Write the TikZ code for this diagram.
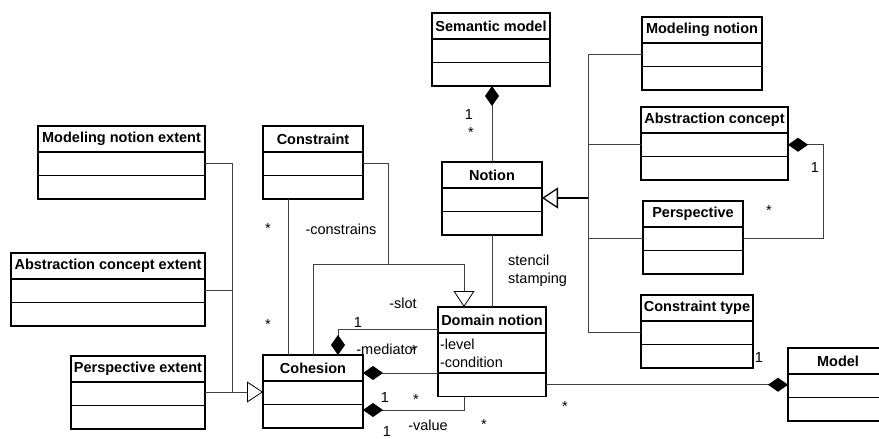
\documentclass[tikz,border=0pt]{standalone}
\usepackage{fontspec}
\setmainfont{Liberation Sans}
\usetikzlibrary{positioning,arrows.meta}
\begin{document}
\begin{tikzpicture}[x=1pt, y=-1pt, font=\fontsize{14.5}{18}\selectfont,
	cls/.style={draw, line width=1.1pt, inner sep=0pt, outer sep=0pt, minimum width=#1, minimum height=26pt, font=\fontsize{14.5}{18}\selectfont\bfseries},
	row/.style={draw, line width=1.1pt, inner sep=0pt, outer sep=0pt, minimum width=#1, minimum height=23.5pt},
	assoc/.style={draw=black!75, line width=0.8pt},
	comp/.style={assoc, -{Diamond[length=20pt, width=14pt, color=black]}},
	gen/.style={assoc, -{Triangle[open, length=16pt, width=21pt, color=black, fill=white]}},
	lbl/.style={inner sep=0pt}]
	\useasboundingbox (0, 0) rectangle (879, 439);
	\node[cls=118, anchor=north west] (semantic) at (432, 13) {Semantic model};
	\node[row=118, below=0pt of semantic] (semantic-a) {};
	\node[row=118, below=0pt of semantic-a] (semantic-b) {};
	\node[cls=120, anchor=north west] (modnotion) at (642, 17) {Modeling notion};
	\node[row=120, below=0pt of modnotion] (modnotion-a) {};
	\node[row=120, below=0pt of modnotion-a] (modnotion-b) {};
	\node[cls=147, anchor=north west] (abstrc) at (641, 107) {Abstraction concept};
	\node[row=147, below=0pt of abstrc] (abstrc-a) {};
	\node[row=147, below=0pt of abstrc-a] (abstrc-b) {};
	\node[cls=100, anchor=north west] (persp) at (643, 201) {Perspective};
	\node[row=100, below=0pt of persp] (persp-a) {};
	\node[row=100, below=0pt of persp-a] (persp-b) {};
	\node[cls=112, anchor=north west] (ctype) at (641, 295) {Constraint type};
	\node[row=112, below=0pt of ctype] (ctype-a) {};
	\node[row=112, below=0pt of ctype-a] (ctype-b) {};
	\node[cls=100, anchor=north west] (notion) at (442, 162) {Notion};
	\node[row=100, below=0pt of notion] (notion-a) {};
	\node[row=100, below=0pt of notion-a] (notion-b) {};
	\node[cls=100, anchor=north west] (constraint) at (263, 126) {Constraint};
	\node[row=100, below=0pt of constraint] (constraint-a) {};
	\node[row=100, below=0pt of constraint-a] (constraint-b) {};
	\node[cls=167, anchor=north west] (mnext) at (38, 126) {Modeling notion extent};
	\node[row=167, below=0pt of mnext] (mnext-a) {};
	\node[row=167, below=0pt of mnext-a] (mnext-b) {};
	\node[cls=194, anchor=north west] (acext) at (11, 253) {Abstraction concept extent};
	\node[row=194, below=0pt of acext] (acext-a) {};
	\node[row=194, below=0pt of acext-a] (acext-b) {};
	\node[cls=134, anchor=north west] (pext) at (71, 356) {Perspective extent};
	\node[row=134, below=0pt of pext] (pext-a) {};
	\node[row=134, below=0pt of pext-a] (pext-b) {};
	\node[cls=100, anchor=north west] (cohesion) at (263, 355) {Cohesion};
	\node[row=100, below=0pt of cohesion] (cohesion-a) {};
	\node[row=100, below=0pt of cohesion-a] (cohesion-b) {};
	\node[cls=108, anchor=north west] (domain) at (438, 307) {Domain notion};
	\node[row=108, minimum height=40pt, text width=104pt, align=left, below=0pt of domain] (domain-a) {-level\\-condition};
	\node[row=108, below=0pt of domain-a] (domain-b) {};
	\node[cls=100, anchor=north west] (model) at (788, 348) {Model};
	\node[row=100, below=0pt of model] (model-a) {};
	\node[row=100, below=0pt of model-a] (model-b) {};
	\coordinate (bus) at (588, 198);
	\coordinate (extbus) at (232, 392);
	\coordinate (gen-turn) at (464, 264);
	\coordinate (join) at (388, 264);
	\coordinate (val) at (464, 410);
	\draw[comp] (notion.north) -- (notion.north |- semantic-b.south);
	\draw[assoc] (modnotion-a.west) -| (ctype-a.west -| bus) -- (ctype-a.west);
	\draw[assoc] (abstrc-a.west) -- (abstrc-a.west -| bus);
	\draw[assoc] (persp-a.west) -- (persp-a.west -| bus);
	\draw[gen, draw=black, line width=1.3pt] (bus) -- (bus -| notion.east);
	\draw[comp] (persp-a.east) -| ([xshift=35pt]abstrc-a.east) -- (abstrc-a.east);
	\draw[assoc] ([xshift=-25pt]constraint-b.south) -- ([xshift=-25pt]cohesion.north);
	\draw[gen] (cohesion.north) |- (gen-turn) -- (gen-turn |- domain.north);
	\draw[assoc] (constraint-a.east) -| (join);
	\draw[assoc] (notion-b.south) -- (notion-b.south |- domain.north);
	\draw[comp] ([yshift=-9pt]domain.west) -| ([xshift=75pt]cohesion.north west);
	\draw[comp] (domain-a.south west) -- (domain-a.south west -| cohesion.east);
	\draw[comp] (val |- domain-b.south) -- (val) -- (val -| cohesion.east);
	\draw[comp] (domain-b.east) -- (domain-b.east -| model.west);
	\draw[assoc] (mnext-a.east) -| (extbus);
	\draw[assoc] (acext-a.east) -- (acext-a.east -| extbus);
	\draw[gen] (pext-a.east |- extbus) -- (extbus -| cohesion.west);
	\node[lbl] (m1) at (469, 115) {1};
	\node[lbl] (m2) at (471, 133) {*};
	\node[lbl] (m3) at (815, 168) {1};
	\node[lbl] (m4) at (769, 211) {*};
	\node[lbl] (m5) at (268, 229) {*};
	\node[lbl] (m6) at (268, 325) {*};
	\node[lbl] (constrains) at (341, 229) {-constrains};
	\node[lbl, anchor=west, align=left] (stencil) at (508, 271) {stencil\\stamping};
	\node[lbl] (slot) at (403, 303) {-slot};
	\node[lbl] (m7) at (358, 323) {1};
	\node[lbl] (mediator) at (387, 349) {-mediator};
	\node[lbl] (m8) at (414, 351) {*};
	\node[lbl] (m9) at (385, 398) {1};
	\node[lbl] (m10) at (416, 400) {*};
	\node[lbl] (value) at (428, 425) {-value};
	\node[lbl] (m11) at (387, 432) {1};
	\node[lbl] (m12) at (484, 425) {*};
	\node[lbl] (m13) at (759, 358) {1};
	\node[lbl] (m14) at (565, 407) {*};
\end{tikzpicture}
\end{document}
